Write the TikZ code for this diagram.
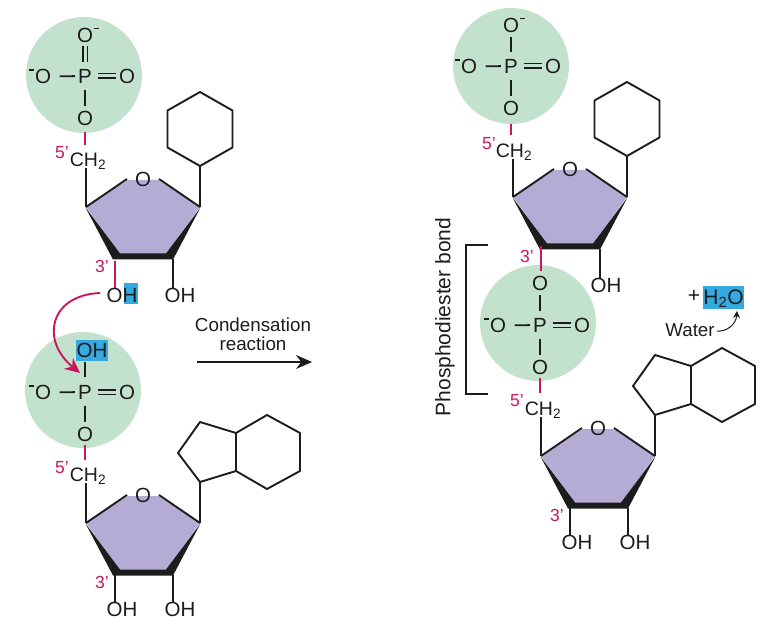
\documentclass[tikz,border=0pt]{standalone}
\usepackage{fontspec}
\setmainfont{Liberation Sans}
\usetikzlibrary{arrows.meta}
\definecolor{pgreen}{HTML}{C3E2CE}
\definecolor{spurple}{HTML}{B4ACD4}
\definecolor{bondred}{HTML}{C8185C}
\definecolor{wblue}{HTML}{35A9E0}
\definecolor{ink}{HTML}{1C1C1C}
\newcommand{\minusR}{\rlap{\hspace{1pt}\rule[13pt]{5.5pt}{1.5pt}}}
\newcommand{\minusL}{\llap{\rule[13pt]{5.5pt}{1.5pt}\hspace{1pt}}}
\tikzset{
  atom/.style={inner sep=0pt,text height=14.5pt,text depth=0pt,text=ink,font=\fontsize{20.5}{21}\selectfont},
  chtwo/.style={atom,font=\fontsize{19.5}{21}\selectfont},
  prime/.style={inner sep=0pt,text=bondred,font=\fontsize{17.5}{19}\selectfont},
  plabel/.style={inner sep=0pt,text=ink,font=\fontsize{18.8}{20}\selectfont},
  bond/.style={draw=ink,line width=1.8pt},
  pbond/.style={bond,shorten <=6.5pt,shorten >=5pt},
  lbond/.style={bond,shorten <=3pt,shorten >=8.5pt},
  dbl/.style={draw=ink,line width=1.7pt,double=pgreen,double distance=3pt,shorten <=5.5pt,shorten >=3pt},
  dblv/.style={dbl,shorten <=7pt,shorten >=3.5pt},
  redbond/.style={draw=bondred,line width=1.9pt},
  ringline/.style={draw=ink,line width=1.9pt},
  pcircle/.style={fill=pgreen,draw=none},
}
% #1 name prefix, (#2,#3) centre of P
\newcommand{\phoscore}[3]{%
  \begin{scope}[shift={(#2,#3)}]
    \node[atom] (#1P) at (0,0) {P};
    \node[atom] (#1L) at (-42,0.5) {\minusL O};
    \node[atom] (#1R) at (42,0) {O};
    \node[atom] (#1B) at (0,42) {O};
  \end{scope}
  \draw[lbond] (#1P) -- (#1L);
  \draw[dbl] (#1P) -- (#1R);
  \draw[pbond] (#1P) -- (#1B);
}
% #1 prefix, (#2,#3) top-left ring vertex
\newcommand{\sugar}[3]{%
  \begin{scope}[shift={(#2,#3)}]
    \coordinate (#1TL) at (0,0);
    \coordinate (#1TR) at (114,0);
    \coordinate (#1BL) at (29,50);
    \coordinate (#1BR) at (87,50);
    \coordinate (#1ol) at (41,-28);
    \coordinate (#1or) at (73,-28);
    \fill[spurple] (0,0) -- (42,-27) -- (72,-27) -- (114,0) -- (80,47) -- (34,47) -- cycle;
    \fill[ink] (-0.5,0.5) -- (27,52.5) -- (87,52.5) -- (114.5,0.5) -- (80,46.5) -- (34,46.5) -- cycle;
    \node[atom] (#1O) at (57,-27.5) {O};
  \end{scope}
  \draw[ringline] (#1TL) -- (#1ol);
  \draw[ringline] (#1TR) -- (#1or);
}
% #1 prefix, (#2,#3) attachment vertex
\newcommand{\hexring}[3]{%
  \begin{scope}[shift={(#2,#3)}]
    \coordinate (#1a) at (0,0);
    \draw[ringline,line join=round] (0,0) -- (32.5,-18.5) -- (32.5,-55.5) -- (0,-74) -- (-32.5,-55.5) -- (-32.5,-18.5) -- cycle;
  \end{scope}
}
\newcommand{\bicyc}[3]{%
  \begin{scope}[shift={(#2,#3)}]
    \coordinate (#1a) at (0,0);
    \draw[ringline,line join=round] (0,0) -- (-22,-29) -- (0,-60) -- (36,-49) -- (36,-11) -- cycle;
    \draw[ringline,line join=round] (36,-49) -- (67,-67) -- (100,-49) -- (100,-11) -- (67,7) -- (36,-11);
  \end{scope}
}
\begin{document}
\begin{tikzpicture}[x=1pt,y=-1pt]
\useasboundingbox (0,0) rectangle (776,628);

% ---------- top-left nucleotide
\fill[pcircle] (84,75) circle (58);
\phoscore{a}{85}{76}{}
\node[atom] (aT) at (85,35) {O\minusR};
\draw[dblv] (aP) -- (aT);
\node[chtwo] (aCH) at (88,159) {CH\textsubscript{2}};
\node[prime] (a5) at (62,153) {5'};
\draw[redbond] (85,132.5) -- (85,145);
\sugar{a}{86}{207}
\draw[bond] (aCH.south -| aTL) ++(0,2) -- (aTL);
\hexring{ah}{200}{166}
\draw[bond] (aTR) -- (aha);
\fill[wblue] (124,283) rectangle (138,304);
\node[atom] (aOH3) at (122,295) {OH};
\node[atom] (aOH2) at (180,295) {OH};
\node[prime] (a3) at (102,266) {3'};
\draw[redbond] (aBL) ++(0,4) -- (aBL |- aOH3.north);
\draw[bond] (aBR) ++(0,2) -- (aBR |- aOH2.north);

% ---------- bottom-left nucleotide
\fill[pcircle] (83,390) circle (58);
\fill[wblue] (76,340) rectangle (108,361);
\phoscore{b}{85}{392}{}
\node[atom] (bT) at (92,350.5) {OH};
\draw[bond] (85,361.5) -- (85,377);
\node[chtwo] (bCH) at (88,474) {CH\textsubscript{2}};
\node[prime] (b5) at (62,468) {5'};
\draw[redbond] (85,445) -- (85,460);
\sugar{b}{86}{523}
\draw[bond] (bCH.south -| bTL) ++(0,2) -- (bTL);
\bicyc{bh}{200}{482}
\draw[bond] (bTR) -- (bha);
\node[atom] (bOH3) at (122,609) {OH};
\node[atom] (bOH2) at (180,609) {OH};
\node[prime] (b3) at (102,582) {3'};
\draw[bond] (bBL) ++(0,2) -- (bBL |- bOH3.north);
\draw[bond] (bBR) ++(0,2) -- (bBR |- bOH2.north);

% ---------- attack arrow
\coordinate (atkend) at (80,373);
\draw[draw=bondred,line width=1.9pt,-{Stealth[length=15pt,width=14pt]}] (100,293) .. controls (50,295) and (40,340) .. (atkend);

% ---------- reaction arrow
\node[plabel] (cond) at (253,325) {Condensation};
\node[plabel] (reac) at (253,344) {reaction};
\coordinate (rs) at (197,362);
\coordinate (re) at (312,362);
\draw[draw=ink,line width=1.7pt,-{Stealth[length=16pt,width=14pt]}] (rs) -- (re);

% ---------- right: top nucleotide
\fill[pcircle] (511,66) circle (58);
\phoscore{c}{511}{66}{}
\node[atom] (cT) at (511,25) {O\minusR};
\draw[pbond] (cP) -- (cT);
\node[chtwo] (cCH) at (514,150) {CH\textsubscript{2}};
\node[prime] (c5) at (489,144) {5'};
\draw[redbond] (511,124) -- (511,135);
\sugar{c}{513}{197}
\draw[bond] (cCH.south -| cTL) ++(0,2) -- (cTL);
\hexring{ch}{627}{156}
\draw[bond] (cTR) -- (cha);
\node[atom] (cOH2) at (606,285) {OH};
\node[prime] (c3) at (527,256) {3'};
\draw[bond] (cBR) ++(0,2) -- (cBR |- cOH2.north);

% ---------- right: middle phosphate
\fill[pcircle] (538,323) circle (58);
\phoscore{d}{540}{325}{}
\node[atom] (dT) at (540,283) {O};
\draw[pbond] (dP) -- (dT);
\draw[redbond] (541,246) -- (541,271);
\node[chtwo] (dCH) at (543,408) {CH\textsubscript{2}};
\node[prime] (d5) at (517,401) {5'};
\draw[redbond] (540,378) -- (540,393);

% ---------- right: lower nucleoside
\sugar{e}{541}{456}
\draw[bond] (dCH.south -| eTL) ++(0,2) -- (eTL);
\bicyc{eh}{655}{415}
\draw[bond] (eTR) -- (eha);
\node[atom] (eOH3) at (577,542) {OH};
\node[atom] (eOH2) at (635,542) {OH};
\node[prime] (e3) at (557,515) {3'};
\draw[bond] (eBL) ++(0,2) -- (eBL |- eOH3.north);
\draw[bond] (eBR) ++(0,2) -- (eBR |- eOH2.north);

% ---------- bracket and label
\coordinate (b1) at (488,245);
\coordinate (b2) at (466,245);
\coordinate (b3) at (466,394);
\coordinate (b4) at (488,394);
\draw[draw=ink,line width=1.7pt] (b1) -- (b2) -- (b3) -- (b4);
\node[inner sep=0pt,text=ink,rotate=90,font=\fontsize{21}{22}\selectfont] (pb) at (445,317) {Phosphodiester bond};

% ---------- water
\fill[wblue] (703,286) rectangle (744,308.5);
\node[atom,font=\fontsize{21}{22}\selectfont] (plus) at (694,295) {+};
\node[atom,font=\fontsize{21}{22}\selectfont] (water) at (723.5,297.5) {H\textsubscript{2}O};
\node[inner sep=0pt,text=ink,font=\fontsize{18.7}{20}\selectfont] (wlabel) at (690,330) {Water};
\coordinate (wt) at (737,311);
\draw[draw=ink,line width=1pt,-{Stealth[length=7pt,width=7pt]}] (wlabel.east) ++(2,1) .. controls (726,332) and (736,325) .. (wt);
\end{tikzpicture}
\end{document}
